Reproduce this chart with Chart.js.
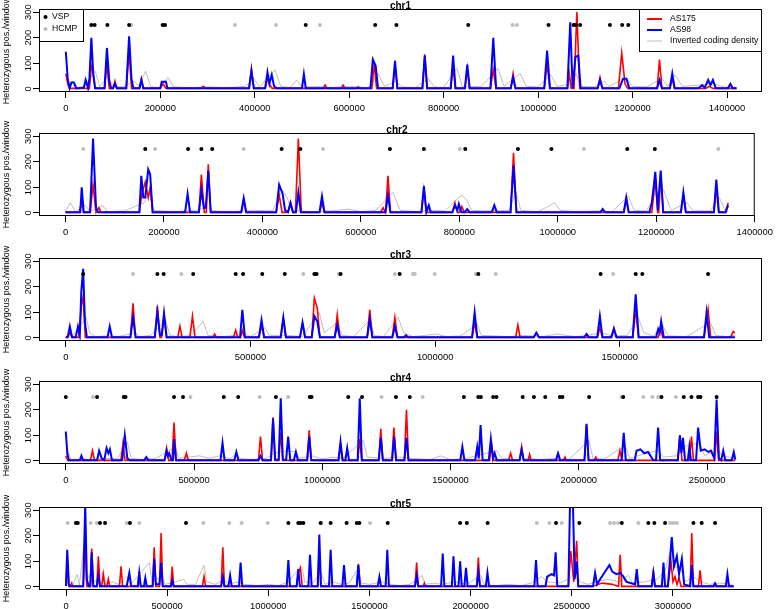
<!DOCTYPE html>
<html>
<head>
<meta charset="utf-8">
<script src="https://cdn.jsdelivr.net/npm/chart.js@4.4.1/dist/chart.umd.min.js"></script>
<style>
  body { margin: 0; background: #fff; width: 778px; height: 609px; overflow: hidden; position: relative; }
  .panel { position: absolute; left: 0; width: 778px; height: 140px; }
</style>
</head>
<body>
<div class="panel" style="top:-8px"><canvas id="c1" width="778" height="140"></canvas></div>
<div class="panel" style="top:116px"><canvas id="c2" width="778" height="140"></canvas></div>
<div class="panel" style="top:241px"><canvas id="c3" width="778" height="140"></canvas></div>
<div class="panel" style="top:364px"><canvas id="c4" width="778" height="140"></canvas></div>
<div class="panel" style="top:490px"><canvas id="c5" width="778" height="140"></canvas></div>
<script>
// ---- data: [position, heterozygous positions per window] ----
const yTicks = [0, 100, 200, 300];
const ticks1400k = [0, 200000, 400000, 600000, 800000, 1000000, 1200000, 1400000];
const ticksChr3 = [0, 500000, 1000000, 1500000];
const ticksChr4 = [0, 500000, 1000000, 1500000, 2000000, 2500000];
const ticksChr5 = [0, 500000, 1000000, 1500000, 2000000, 2500000, 3000000];
const markerY = 250;

// chr1
const chr1Blue = [[0,145],[4000,40],[8000,2],[12000,25],[17000,25],[22000,2],[38000,5],[42000,35],[47000,3],[50000,40],[54000,200],[58000,60],[62000,3],[82000,3],[87000,160],[92000,30],[96000,3],[100000,3],[104000,20],[108000,3],[128000,3],[134000,205],[139000,40],[143000,3],[156000,3],[160000,35],[164000,3],[200000,3],[203000,28],[212000,28],[215000,3],[388000,3],[393000,70],[398000,3],[422000,3],[427000,65],[431000,20],[436000,55],[441000,10],[446000,3],[500000,3],[504000,58],[508000,3],[645000,3],[650000,115],[656000,90],[661000,3],[692000,3],[697000,110],[702000,3],[755000,3],[760000,130],[765000,3],[815000,3],[820000,130],[825000,3],[845000,3],[850000,95],[855000,3],[899000,3],[905000,200],[911000,3],[942000,3],[947000,45],[952000,3],[1013000,3],[1019000,150],[1025000,3],[1062000,3],[1068000,260],[1073000,3],[1079000,125],[1085000,130],[1090000,3],[1126000,3],[1131000,35],[1136000,3],[1172000,3],[1180000,40],[1187000,40],[1193000,3],[1252000,3],[1257000,35],[1262000,3],[1279000,3],[1284000,60],[1289000,3],[1340000,3],[1347000,15],[1353000,5],[1360000,35],[1365000,15],[1370000,35],[1376000,3],[1402000,3],[1407000,20],[1412000,3],[1420000,3]];
const chr1Red = [[0,60],[4000,20],[8000,2],[50000,2],[54000,90],[58000,60],[62000,2],[82000,2],[87000,100],[92000,2],[100000,2],[104000,30],[108000,2],[128000,2],[134000,150],[139000,2],[156000,2],[160000,40],[164000,2],[200000,2],[206000,20],[212000,2],[286000,2],[291000,10],[296000,2],[388000,2],[393000,80],[398000,2],[422000,2],[427000,40],[432000,15],[437000,2],[545000,2],[549000,15],[553000,2],[583000,2],[587000,15],[591000,2],[615000,2],[619000,8],[623000,2],[648000,2],[653000,100],[658000,2],[692000,2],[697000,90],[702000,2],[755000,2],[760000,135],[765000,2],[815000,2],[820000,85],[825000,2],[845000,2],[850000,80],[855000,2],[899000,2],[905000,75],[911000,2],[942000,2],[947000,60],[952000,2],[1013000,2],[1019000,100],[1025000,2],[1062000,2],[1066000,60],[1070000,2],[1076000,2],[1082000,300],[1088000,2],[1126000,2],[1131000,45],[1136000,2],[1170000,2],[1177000,140],[1184000,20],[1190000,2],[1252000,2],[1257000,115],[1262000,2],[1279000,2],[1284000,40],[1289000,2],[1355000,2],[1362000,10],[1370000,2],[1420000,2]];
const chr1Gray = [[0,10],[15000,30],[25000,5],[40000,10],[62000,70],[72000,10],[90000,50],[100000,10],[120000,8],[145000,30],[155000,10],[169000,70],[180000,8],[200000,5],[216000,45],[228000,8],[260000,5],[300000,8],[340000,5],[380000,10],[398000,40],[410000,8],[443000,75],[455000,10],[475000,5],[489000,35],[500000,8],[540000,10],[560000,5],[600000,10],[640000,5],[661000,60],[675000,10],[700000,30],[712000,8],[740000,5],[768000,40],[780000,8],[800000,5],[828000,80],[840000,8],[880000,10],[915000,80],[928000,10],[962000,60],[975000,10],[1000000,8],[1027000,55],[1040000,10],[1070000,20],[1080000,60],[1090000,10],[1120000,8],[1140000,30],[1150000,10],[1185000,45],[1200000,10],[1230000,8],[1262000,40],[1275000,10],[1290000,55],[1305000,10],[1340000,15],[1370000,20],[1395000,8],[1420000,5]];
const chr1Vsp = [54000,61000,88000,134000,205000,210000,508000,655000,700000,852000,1022000,1075000,1080000,1089000,1152000,1178000,1191000];
const chr1Hcmp = [139000,358000,445000,538000,946000,955000];

// chr2
const chr2Blue = [[0,3],[30000,3],[33000,100],[37000,3],[50000,3],[56000,290],[62000,20],[66000,3],[150000,3],[154000,145],[158000,60],[162000,60],[168000,170],[172000,150],[177000,3],[243000,3],[248000,75],[253000,3],[271000,3],[276000,90],[281000,20],[285000,20],[290000,165],[295000,3],[357000,3],[362000,58],[367000,3],[428000,3],[434000,110],[441000,75],[446000,10],[452000,3],[457000,40],[462000,3],[468000,3],[473000,80],[478000,3],[516000,3],[521000,65],[526000,3],[650000,3],[655000,70],[660000,3],[723000,3],[728000,105],[733000,3],[738000,30],[742000,3],[786000,3],[791000,30],[796000,10],[799000,35],[804000,3],[811000,3],[816000,15],[821000,3],[866000,3],[871000,30],[876000,3],[904000,3],[910000,185],[916000,3],[1087000,3],[1091000,15],[1096000,3],[1134000,3],[1139000,60],[1144000,3],[1186000,3],[1191000,40],[1198000,160],[1203000,10],[1209000,165],[1214000,3],[1250000,3],[1255000,80],[1260000,3],[1317000,3],[1322000,130],[1327000,3],[1341000,3],[1346000,30]];
const chr2Red = [[0,2],[28000,2],[33000,45],[37000,2],[50000,2],[56000,110],[62000,2],[68000,20],[72000,2],[150000,2],[155000,75],[162000,120],[168000,60],[172000,100],[177000,2],[271000,2],[276000,150],[282000,2],[286000,2],[290000,190],[295000,2],[357000,2],[362000,50],[367000,2],[428000,2],[434000,70],[440000,2],[452000,2],[457000,40],[462000,2],[467000,2],[473000,290],[479000,2],[516000,2],[521000,40],[526000,2],[640000,2],[645000,20],[650000,2],[655000,145],[660000,2],[723000,2],[728000,90],[733000,2],[786000,2],[791000,40],[796000,2],[800000,2],[805000,25],[810000,2],[904000,2],[910000,235],[916000,2],[1134000,2],[1139000,55],[1144000,2],[1191000,2],[1198000,135],[1203000,2],[1205000,2],[1209000,160],[1214000,2],[1250000,2],[1255000,70],[1260000,2],[1317000,2],[1322000,100],[1327000,2],[1340000,2],[1346000,40]];
const chr2Gray = [[0,5],[10000,40],[20000,5],[40000,30],[50000,5],[75000,30],[85000,5],[120000,8],[160000,40],[170000,80],[180000,10],[220000,5],[262000,10],[290000,20],[300000,8],[340000,5],[380000,10],[420000,8],[441000,90],[450000,60],[460000,10],[500000,5],[540000,8],[575000,15],[600000,5],[630000,10],[665000,80],[680000,10],[720000,5],[740000,10],[770000,8],[805000,70],[815000,50],[825000,10],[860000,8],[900000,10],[915000,80],[925000,10],[960000,5],[994000,40],[1005000,10],[1040000,5],[1080000,8],[1110000,5],[1143000,65],[1155000,10],[1180000,8],[1200000,80],[1215000,90],[1230000,10],[1262000,40],[1275000,8],[1310000,8],[1328000,60],[1340000,10],[1346000,5]];
const chr2Vsp = [162000,249000,276000,298000,439000,477000,659000,728000,812000,919000,987000,1141000,1197000];
const chr2Hcmp = [36000,182000,362000,523000,801000,1053000,1326000];

// chr3
const chr3Blue = [[0,3],[5000,3],[11000,45],[17000,3],[27000,3],[33000,45],[38000,10],[42000,180],[47000,270],[52000,60],[57000,3],[113000,3],[119000,45],[125000,3],[175000,3],[182000,80],[189000,3],[241000,3],[248000,100],[255000,10],[260000,10],[266000,95],[273000,3],[472000,3],[478000,110],[485000,3],[523000,3],[530000,70],[537000,3],[582000,3],[589000,80],[596000,3],[634000,3],[641000,60],[648000,3],[666000,3],[673000,85],[681000,65],[688000,3],[728000,3],[735000,50],[742000,3],[816000,3],[823000,75],[830000,3],[884000,3],[891000,45],[898000,3],[915000,3],[921000,10],[927000,3],[1100000,3],[1107000,100],[1114000,3],[1267000,3],[1274000,20],[1281000,3],[1404000,3],[1410000,15],[1416000,3],[1439000,3],[1446000,85],[1453000,3],[1477000,3],[1484000,35],[1491000,3],[1535000,3],[1543000,170],[1551000,3],[1598000,3],[1604000,35],[1608000,20],[1612000,65],[1619000,3],[1728000,3],[1735000,100],[1742000,3],[1812000,3]];
const chr3Red = [[0,2],[5000,2],[11000,20],[17000,2],[35000,2],[42000,125],[47000,160],[53000,2],[175000,2],[182000,135],[189000,2],[241000,2],[248000,125],[255000,2],[259000,2],[266000,90],[273000,2],[303000,2],[309000,45],[315000,2],[336000,2],[343000,85],[350000,2],[398000,2],[403000,15],[408000,2],[454000,2],[460000,30],[466000,2],[473000,2],[478000,30],[484000,2],[523000,2],[530000,50],[537000,2],[582000,2],[589000,75],[596000,2],[634000,2],[641000,55],[648000,2],[666000,2],[673000,155],[681000,115],[688000,2],[728000,2],[735000,90],[742000,2],[816000,2],[823000,110],[830000,2],[884000,2],[891000,80],[898000,2],[1100000,2],[1107000,60],[1114000,2],[1218000,2],[1224000,50],[1230000,2],[1267000,2],[1274000,20],[1281000,2],[1439000,2],[1446000,40],[1453000,2],[1477000,2],[1484000,40],[1491000,2],[1535000,2],[1543000,110],[1551000,2],[1604000,2],[1610000,40],[1616000,2],[1728000,2],[1739000,110],[1746000,2],[1800000,2],[1807000,25],[1812000,20]];
const chr3Gray = [[0,5],[20000,10],[35000,40],[55000,80],[65000,20],[80000,5],[110000,8],[140000,5],[190000,20],[200000,5],[230000,10],[270000,70],[282000,10],[300000,5],[340000,10],[372000,65],[385000,10],[420000,5],[460000,10],[485000,15],[500000,5],[540000,40],[550000,10],[600000,10],[640000,5],[686000,100],[700000,20],[735000,60],[748000,10],[780000,5],[823000,70],[835000,10],[860000,5],[900000,80],[915000,20],[940000,5],[1004000,15],[1030000,5],[1070000,8],[1114000,55],[1125000,10],[1160000,8],[1200000,5],[1240000,10],[1290000,5],[1330000,15],[1380000,5],[1410000,10],[1450000,20],[1480000,8],[1520000,10],[1550000,80],[1565000,20],[1590000,8],[1616000,50],[1630000,8],[1680000,5],[1745000,60],[1760000,10],[1790000,5],[1812000,10]];
const chr3Vsp = [47000,248000,265000,345000,460000,480000,532000,593000,673000,679000,744000,904000,1117000,1448000,1543000,1561000,1739000];
const chr3Hcmp = [182000,313000,643000,739000,891000,940000,945000,999000,1110000,1164000,1482000];

// chr4
const chr4Blue = [[0,115],[6000,30],[12000,3],[55000,3],[61000,20],[67000,3],[122000,3],[130000,40],[140000,10],[150000,3],[159000,50],[166000,30],[172000,45],[180000,3],[220000,3],[230000,100],[240000,10],[250000,3],[306000,3],[314000,15],[322000,3],[385000,3],[393000,40],[398000,20],[403000,30],[412000,3],[418000,3],[422000,85],[430000,3],[603000,3],[611000,70],[619000,3],[657000,3],[665000,35],[673000,3],[751000,3],[759000,20],[767000,3],[800000,3],[808000,165],[816000,5],[830000,5],[838000,245],[846000,5],[859000,5],[867000,95],[875000,3],[889000,3],[897000,35],[905000,3],[941000,3],[949000,95],[957000,3],[1063000,3],[1071000,75],[1079000,3],[1090000,3],[1097000,50],[1104000,3],[1138000,3],[1146000,245],[1154000,3],[1220000,3],[1228000,90],[1236000,3],[1272000,3],[1280000,95],[1288000,3],[1320000,3],[1328000,90],[1336000,3],[1538000,3],[1546000,55],[1554000,3],[1596000,3],[1604000,55],[1610000,10],[1617000,140],[1625000,3],[1649000,3],[1657000,85],[1665000,10],[1672000,30],[1680000,3],[1769000,3],[1777000,45],[1785000,3],[1911000,3],[1919000,30],[1927000,3],[2022000,3],[2030000,145],[2038000,3],[2167000,3],[2175000,110],[2183000,3],[2218000,3],[2225000,40],[2240000,45],[2255000,30],[2270000,35],[2290000,3],[2301000,3],[2309000,130],[2317000,3],[2386000,3],[2394000,100],[2400000,30],[2406000,90],[2414000,3],[2425000,3],[2431000,55],[2437000,3],[2457000,3],[2465000,130],[2475000,40],[2490000,45],[2505000,35],[2515000,40],[2528000,10],[2537000,240],[2546000,10],[2555000,3],[2563000,40],[2571000,3],[2596000,3],[2604000,35],[2610000,5]];
const chr4Red = [[0,20],[8000,2],[96000,2],[104000,40],[112000,2],[215000,2],[223000,70],[231000,2],[385000,2],[393000,50],[401000,2],[414000,2],[422000,150],[430000,2],[462000,2],[470000,30],[478000,2],[751000,2],[759000,95],[767000,2],[800000,2],[808000,170],[816000,2],[830000,2],[838000,110],[846000,2],[941000,2],[949000,120],[957000,2],[1063000,2],[1071000,60],[1079000,2],[1138000,2],[1146000,85],[1154000,2],[1220000,2],[1228000,125],[1236000,2],[1271000,2],[1279000,130],[1287000,2],[1320000,2],[1328000,200],[1336000,2],[1652000,2],[1660000,65],[1668000,2],[1726000,2],[1734000,30],[1742000,2],[1769000,2],[1777000,55],[1785000,2],[1802000,2],[1808000,25],[1814000,2],[1940000,2],[1946000,15],[1952000,2],[2022000,2],[2030000,140],[2038000,2],[2060000,2],[2066000,15],[2072000,2],[2152000,2],[2160000,40],[2168000,2],[2386000,2],[2394000,100],[2402000,2],[2431000,2],[2439000,95],[2447000,2],[2529000,2],[2537000,115],[2545000,2],[2610000,2]];
const chr4Gray = [[0,10],[6000,45],[20000,5],[60000,8],[100000,5],[150000,10],[200000,8],[240000,75],[255000,10],[300000,5],[350000,10],[428000,55],[440000,10],[480000,15],[520000,20],[560000,10],[600000,20],[640000,8],[665000,30],[680000,10],[720000,5],[780000,10],[815000,30],[860000,40],[897000,35],[910000,10],[960000,20],[1000000,8],[1040000,15],[1080000,10],[1160000,80],[1175000,15],[1240000,10],[1300000,15],[1340000,10],[1380000,8],[1420000,5],[1460000,20],[1500000,5],[1560000,10],[1620000,25],[1680000,40],[1700000,10],[1760000,5],[1800000,10],[1850000,5],[1900000,10],[1960000,5],[2040000,80],[2055000,10],[2100000,8],[2180000,60],[2200000,10],[2260000,30],[2310000,40],[2330000,15],[2380000,20],[2420000,60],[2470000,70],[2490000,20],[2540000,45],[2560000,20],[2610000,10]];
const chr4Vsp = [0,122000,226000,233000,422000,457000,616000,672000,819000,951000,958000,1101000,1155000,1287000,1341000,1552000,1608000,1618000,1666000,1679000,1781000,1825000,1869000,1926000,1936000,2040000,2173000,2322000,2409000,2439000,2465000,2474000,2537000];
const chr4Hcmp = [106000,486000,756000,867000,1231000,1391000,2166000,2251000,2287000,2309000,2378000];

// chr5
const chr5Blue = [[0,3],[6000,145],[14000,10],[20000,3],[85000,3],[95000,320],[103000,30],[112000,3],[120000,3],[127000,135],[135000,3],[152000,3],[160000,45],[168000,3],[300000,3],[313000,55],[322000,3],[355000,3],[362000,55],[369000,3],[385000,3],[392000,35],[399000,3],[428000,3],[436000,110],[444000,10],[462000,10],[470000,95],[478000,3],[518000,3],[525000,25],[532000,3],[767000,3],[775000,40],[783000,3],[803000,3],[811000,45],[819000,3],[855000,3],[863000,95],[871000,3],[1091000,3],[1099000,105],[1107000,3],[1140000,3],[1148000,70],[1156000,3],[1198000,3],[1206000,125],[1214000,3],[1244000,3],[1252000,205],[1260000,3],[1300000,3],[1308000,145],[1316000,3],[1366000,3],[1374000,85],[1382000,3],[1437000,3],[1445000,85],[1453000,3],[1541000,3],[1549000,40],[1557000,3],[1580000,3],[1588000,145],[1596000,3],[1725000,3],[1733000,45],[1741000,3],[1854000,3],[1862000,130],[1870000,3],[1907000,3],[1915000,120],[1923000,3],[1940000,3],[1948000,100],[1956000,3],[1969000,3],[1977000,75],[1985000,3],[2030000,3],[2038000,60],[2046000,3],[2075000,3],[2083000,55],[2091000,3],[2315000,3],[2323000,105],[2331000,3],[2370000,3],[2378000,40],[2400000,50],[2412000,45],[2420000,135],[2428000,3],[2483000,3],[2491000,320],[2506000,310],[2514000,30],[2524000,100],[2532000,3],[2605000,3],[2615000,55],[2625000,10],[2640000,30],[2665000,60],[2686000,85],[2700000,60],[2720000,50],[2740000,55],[2755000,40],[2770000,20],[2790000,15],[2813000,10],[2821000,70],[2829000,3],[2895000,3],[2903000,55],[2911000,3],[2945000,3],[2953000,95],[2961000,3],[2975000,3],[2994000,195],[3005000,80],[3019000,120],[3030000,50],[3044000,110],[3055000,10],[3085000,3],[3093000,85],[3101000,3],[3200000,3],[3208000,15],[3216000,3],[3261000,3],[3269000,50],[3277000,3],[3300000,3]];
const chr5Red = [[0,20],[6000,120],[14000,2],[22000,2],[28000,15],[34000,2],[85000,2],[95000,175],[103000,2],[120000,2],[127000,150],[135000,2],[152000,2],[160000,120],[168000,2],[176000,2],[184000,50],[192000,2],[202000,2],[209000,30],[216000,2],[264000,2],[272000,80],[280000,2],[355000,2],[362000,60],[369000,2],[428000,2],[436000,155],[444000,2],[462000,2],[470000,210],[478000,2],[518000,2],[525000,80],[532000,2],[674000,2],[682000,40],[690000,2],[767000,2],[775000,155],[783000,2],[1140000,2],[1148000,55],[1158000,75],[1168000,2],[1244000,2],[1252000,130],[1260000,2],[1437000,2],[1445000,90],[1453000,2],[1725000,2],[1733000,95],[1741000,2],[1765000,2],[1771000,15],[1777000,2],[2030000,2],[2038000,115],[2046000,2],[2483000,2],[2495000,140],[2510000,20],[2524000,180],[2532000,2],[2600000,2],[2650000,15],[2700000,10],[2731000,2],[2739000,125],[2747000,2],[2895000,2],[2903000,65],[2911000,2],[2975000,2],[2990000,100],[3000000,20],[3010000,40],[3020000,10],[3030000,35],[3040000,2],[3085000,2],[3093000,210],[3101000,2],[3126000,2],[3134000,65],[3142000,2],[3300000,2]];
const chr5Gray = [[0,90],[10000,10],[30000,5],[56000,50],[66000,5],[90000,175],[100000,20],[118000,50],[130000,10],[184000,60],[195000,10],[230000,20],[260000,10],[300000,40],[320000,10],[412000,95],[425000,20],[470000,40],[490000,10],[540000,20],[580000,30],[600000,10],[640000,10],[682000,85],[695000,20],[740000,10],[780000,30],[800000,10],[850000,20],[880000,10],[950000,5],[1000000,10],[1050000,5],[1100000,20],[1150000,70],[1165000,80],[1180000,20],[1220000,15],[1260000,60],[1280000,10],[1320000,20],[1360000,10],[1400000,15],[1445000,75],[1460000,15],[1500000,10],[1560000,20],[1600000,10],[1650000,5],[1700000,10],[1760000,45],[1775000,10],[1820000,15],[1860000,10],[1920000,20],[1980000,10],[2050000,45],[2065000,10],[2120000,5],[2180000,10],[2250000,5],[2300000,15],[2350000,40],[2380000,20],[2440000,15],[2480000,30],[2500000,40],[2520000,60],[2540000,20],[2580000,10],[2620000,20],[2680000,30],[2730000,20],[2780000,45],[2800000,15],[2860000,20],[2920000,30],[2960000,60],[2990000,150],[3010000,80],[3040000,70],[3060000,20],[3100000,40],[3140000,20],[3180000,10],[3230000,15],[3280000,10],[3300000,5]];
const chr5Vsp = [49000,58000,168000,193000,316000,593000,1099000,1148000,1160000,1173000,1259000,1308000,1387000,1437000,1450000,1590000,1948000,1981000,2084000,2422000,2537000,2747000,2878000,2908000,2961000,3101000,3142000,3208000];
const chr5Hcmp = [8000,122000,152000,300000,362000,679000,807000,868000,997000,1256000,1503000,2327000,2389000,2450000,2689000,2709000,2729000,2829000,2986000,3002000,3019000];

const FONT = '"Liberation Sans", Arial, Helvetica, sans-serif';
const RED = '#ff0000', BLUE = '#0000ff', GREY = '#bebebe';

// box, title, rotated y labels and legends (R style)
const rFrame = {
  id: 'rFrame',
  afterDraw(chart, args, opts) {
    const { ctx, chartArea: a } = chart;
    const y = chart.scales.y;
    ctx.save();
    ctx.strokeStyle = '#000';
    ctx.lineWidth = 1;
    ctx.strokeRect(a.left + 0.5, a.top + 0.5, a.right - a.left - 1, a.bottom - a.top - 1);

    ctx.fillStyle = '#000';
    ctx.font = 'bold 10px ' + FONT;
    ctx.textAlign = 'center';
    ctx.textBaseline = 'alphabetic';
    ctx.fillText(opts.title, (a.left + a.right) / 2, a.top - 0.5);

    ctx.font = '9.4px ' + FONT;
    yTicks.forEach(v => {
      ctx.save();
      ctx.translate(30.5, y.getPixelForValue(v));
      ctx.rotate(-Math.PI / 2);
      ctx.fillText(String(v), 0, 0);
      ctx.restore();
    });

    if (opts.legend) {
      ctx.font = '8.6px ' + FONT;
      ctx.textAlign = 'left';
      ctx.textBaseline = 'middle';
      // markers legend
      ctx.fillStyle = '#fff';
      ctx.fillRect(a.left, a.top, 44, 32);
      ctx.strokeRect(a.left + 0.5, a.top + 0.5, 44, 32);
      [['VSP', '#000', a.top + 8], ['HCMP', GREY, a.top + 20]].forEach(([t, c, yy]) => {
        ctx.fillStyle = c;
        ctx.beginPath(); ctx.arc(45.5, yy, 2, 0, Math.PI * 2); ctx.fill();
        ctx.fillStyle = '#000';
        ctx.fillText(t, 52, yy);
      });
      // lines legend
      const lx = 639;
      ctx.fillStyle = '#fff';
      ctx.fillRect(lx, a.top, a.right - lx, 42);
      ctx.strokeRect(lx + 0.5, a.top + 0.5, a.right - lx - 1, 42);
      [['AS175', RED, 2, a.top + 10], ['AS98', BLUE, 2, a.top + 21], ['Inverted coding density', GREY, 1, a.top + 32]].forEach(([t, c, w, yy]) => {
        ctx.strokeStyle = c; ctx.lineWidth = w;
        ctx.beginPath(); ctx.moveTo(647, yy); ctx.lineTo(662, yy); ctx.stroke();
        ctx.fillStyle = '#000';
        ctx.fillText(t, 670, yy);
      });
    }
    ctx.restore();
  }
};

const panels = [
  { id: 'c1', title: 'chr1', min: -56800, max: 1474000, ticks: ticks1400k, red: chr1Red, blue: chr1Blue, grey: chr1Gray, vsp: chr1Vsp, hcmp: chr1Hcmp, legend: true },
  { id: 'c2', title: 'chr2', min: -53800, max: 1400000, ticks: ticks1400k, red: chr2Red, blue: chr2Blue, grey: chr2Gray, vsp: chr2Vsp, hcmp: chr2Hcmp },
  { id: 'c3', title: 'chr3', min: -72500, max: 1885000, ticks: ticksChr3, red: chr3Red, blue: chr3Blue, grey: chr3Gray, vsp: chr3Vsp, hcmp: chr3Hcmp },
  { id: 'c4', title: 'chr4', min: -104400, max: 2714000, ticks: ticksChr4, red: chr4Red, blue: chr4Blue, grey: chr4Gray, vsp: chr4Vsp, hcmp: chr4Hcmp },
  { id: 'c5', title: 'chr5', min: -133500, max: 3440000, ticks: ticksChr5, red: chr5Red, blue: chr5Blue, grey: chr5Gray, vsp: chr5Vsp, hcmp: chr5Hcmp }
];

panels.forEach(p => {
  const line = (data, color, width) => ({
    data, showLine: true, borderColor: color, borderWidth: width,
    pointRadius: 0, tension: 0, fill: false
  });
  const dots = (xs, color) => ({
    data: xs.map(x => ({ x, y: markerY })), showLine: false,
    pointRadius: 2, pointBackgroundColor: color, pointBorderWidth: 0
  });

  new Chart(document.getElementById(p.id), {
    type: 'scatter',
    data: {
      datasets: [
        dots(p.vsp, '#000'),
        dots(p.hcmp, GREY),
        line(p.blue, BLUE, 2),
        line(p.red, RED, 1.6),
        line(p.grey, GREY, 1)
      ]
    },
    options: {
      responsive: false,
      devicePixelRatio: 1,
      animation: false,
      events: [],
      layout: { padding: { top: 17, right: 16, left: 0, bottom: 8 } },
      plugins: {
        legend: { display: false },
        tooltip: { enabled: false },
        rFrame: { title: p.title, legend: !!p.legend }
      },
      scales: {
        x: {
          type: 'linear', min: p.min, max: p.max,
          afterBuildTicks: s => { s.ticks = p.ticks.map(v => ({ value: v })); },
          afterFit: s => { s.height = 32; },
          border: { display: false },
          grid: { drawOnChartArea: false, drawTicks: true, tickLength: 6, color: '#000' },
          ticks: {
            autoSkip: false, maxRotation: 0, padding: 5, color: '#000',
            font: { family: FONT, size: 9.4 },
            callback: v => String(v)
          }
        },
        y: {
          type: 'linear', min: -12, max: 312,
          afterBuildTicks: s => { s.ticks = yTicks.map(v => ({ value: v })); },
          afterFit: s => { s.width = 39; },
          border: { display: false },
          grid: { drawOnChartArea: false, drawTicks: true, tickLength: 6, color: '#000' },
          ticks: { display: false },
          title: {
            display: true, text: 'Heterozygous pos./window', color: '#000',
            font: { family: FONT, size: 9 }, padding: { top: 1, bottom: 0 }
          }
        }
      }
    },
    plugins: [rFrame]
  });
});
</script>
</body>
</html>
